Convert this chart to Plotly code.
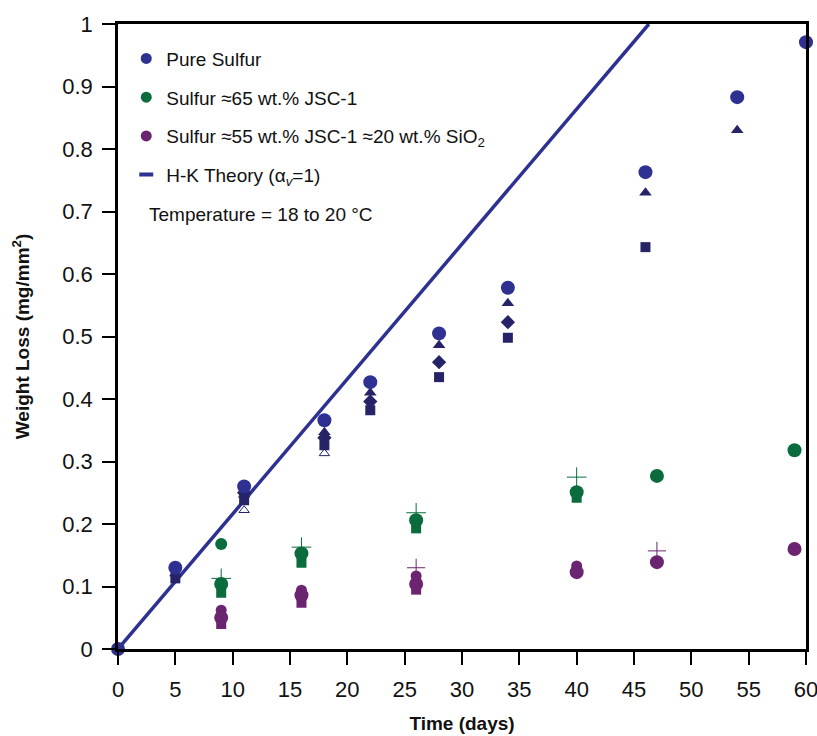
import plotly.graph_objects as go

# ---- Pure sulfur replicates (days, mg/mm^2) ----
pure_t = [0, 5, 11, 18, 22, 28, 34, 46, 54, 60]
pure_circle = [0.0, 0.130, 0.260, 0.366, 0.427, 0.505, 0.578, 0.763, 0.883, 0.971]
pure_triangle = [None, 0.121, 0.247, 0.347, 0.410, 0.486, 0.553, 0.730, 0.830, None]
pure_diamond = [None, None, 0.250, 0.338, 0.396, 0.459, 0.523, None, None, None]
pure_square = [0.0, 0.113, 0.238, 0.326, 0.382, 0.435, 0.498, 0.643, None, None]
pure_open = [None, None, 0.222, 0.313, None, None, None, None, None, None]

# ---- Sulfur + ~65 wt.% JSC-1 ----
jsc_t = [9, 16, 26, 40, 47, 59]
jsc_circle = [0.104, 0.153, 0.206, 0.251, 0.277, 0.318]
jsc_square = [0.090, 0.138, 0.193, 0.242, None, None]
jsc_cross = [0.113, 0.163, 0.218, 0.275, None, None]
jsc_diamond = [0.168, None, None, None, None, None]

# ---- Sulfur + ~55 wt.% JSC-1 + ~20 wt.% SiO2 ----
sio_t = [9, 16, 26, 40, 47, 59]
sio_circle = [0.050, 0.086, 0.104, 0.123, 0.139, 0.160]
sio_square = [0.040, 0.074, 0.095, None, None, None]
sio_triangle = [0.062, 0.094, 0.117, 0.133, None, None]
sio_cross = [None, None, 0.130, None, 0.157, None]

# ---- Hertz-Knudsen theory (alpha_v = 1), straight line ----
hk_t = [0, 46.3]
hk_w = [0.0, 1.0]

x_ticks = [0, 5, 10, 15, 20, 25, 30, 35, 40, 45, 50, 55, 60]
y_ticks = [0, 0.1, 0.2, 0.3, 0.4, 0.5, 0.6, 0.7, 0.8, 0.9, 1.0]
y_tick_text = ["0", "0.1", "0.2", "0.3", "0.4", "0.5", "0.6", "0.7", "0.8", "0.9", "1"]

BLUE = "#2E3192"
BLUE_DARK = "#262466"
GREEN = "#0A6B3C"
PURPLE = "#6B246F"
FONT = "Liberation Sans, Arial, sans-serif"

fig = go.Figure()

# theory line
fig.add_trace(go.Scatter(
    x=hk_t, y=hk_w, mode="lines", showlegend=False,
    line=dict(color=BLUE, width=3.5), hoverinfo="skip",
))


def replicate(x, y, color, symbol, size, group):
    fig.add_trace(go.Scatter(
        x=x, y=y, mode="markers", showlegend=False, legendgroup=group,
        cliponaxis=False,
        marker=dict(color=color, symbol=symbol, size=size,
                    line=dict(width=0)),
    ))


# pure sulfur
replicate(pure_t, pure_square, BLUE_DARK, "square", 10, "pure")
replicate(pure_t, pure_open, BLUE_DARK, "triangle-up-open", 9, "pure")
replicate(pure_t, pure_diamond, BLUE_DARK, "diamond", 11, "pure")
replicate(pure_t, pure_triangle, BLUE_DARK, "triangle-up", 11, "pure")
replicate(pure_t, pure_circle, BLUE, "circle", 14, "pure")

# JSC-1 mix
replicate(jsc_t, jsc_square, GREEN, "square", 10, "jsc")
replicate(jsc_t, jsc_cross, GREEN, "cross-thin-open", 14, "jsc")
replicate(jsc_t, jsc_diamond, GREEN, "circle", 12, "jsc")
replicate(jsc_t, jsc_circle, GREEN, "circle", 14, "jsc")

# JSC-1 + SiO2 mix
replicate(sio_t, sio_square, PURPLE, "square", 10, "sio")
replicate(sio_t, sio_triangle, PURPLE, "circle", 11, "sio")
replicate(sio_t, sio_cross, PURPLE, "cross-thin-open", 13, "sio")
replicate(sio_t, sio_circle, PURPLE, "circle", 14, "sio")

# legend entries
legend_items = [
    ("Pure Sulfur", BLUE, "circle", "pure"),
    ("Sulfur \u224865 wt.% JSC-1", GREEN, "circle", "jsc"),
    ("Sulfur \u224855 wt.% JSC-1 \u224820 wt.% SiO<sub>2</sub>", PURPLE, "circle", "sio"),
]
for name, color, symbol, group in legend_items:
    fig.add_trace(go.Scatter(
        x=[None], y=[None], mode="markers", name=name, legendgroup=group,
        marker=dict(color=color, symbol=symbol, size=11),
    ))
fig.add_trace(go.Scatter(
    x=[None], y=[None], mode="markers", name="H-K Theory (\u03b1<sub><i>v</i></sub>=1)",
    legendgroup="hk",
    marker=dict(color=BLUE, symbol="line-ew-open", size=10,
                line=dict(color=BLUE, width=4)),
))

fig.add_annotation(
    x=0.042, y=0.696, xref="paper", yref="paper", xanchor="left", yanchor="middle",
    text="Temperature = 18 to 20 \u00b0C", showarrow=False,
    font=dict(family=FONT, size=19, color="#111"),
)

axis_common = dict(
    showline=True, linecolor="black", linewidth=2.5, mirror=True,
    ticks="outside", ticklen=13, tickwidth=1.5, tickcolor="black",
    showgrid=False, zeroline=False, automargin=False,
    ticklabeloverflow="allow",
    tickfont=dict(family=FONT, size=22, color="#111"),
)

fig.update_layout(
    width=817, height=736,
    margin=dict(l=118, r=11, t=24, b=87),
    paper_bgcolor="white", plot_bgcolor="white",
    font=dict(family=FONT, color="#111"),
    xaxis=dict(
        range=[0, 60], tickvals=x_ticks, ticklabelstandoff=6,
        title=dict(text="<b>Time (days)</b>", font=dict(family=FONT, size=19), standoff=16),
        **axis_common,
    ),
    yaxis=dict(
        range=[0, 1], tickvals=y_ticks, ticktext=y_tick_text, ticklabelstandoff=5,
        title=dict(text="<b>Weight Loss (mg/mm<sup>2</sup>)</b>", font=dict(family=FONT, size=19), standoff=28),
        **axis_common,
    ),
    legend=dict(
        x=0.012, y=0.975, xanchor="left", yanchor="top",
        bgcolor="rgba(0,0,0,0)", borderwidth=0,
        font=dict(family=FONT, size=19, color="#111"),
        tracegroupgap=11, traceorder="grouped",
    ),
    showlegend=True,
)

fig.write_html("out.html")
